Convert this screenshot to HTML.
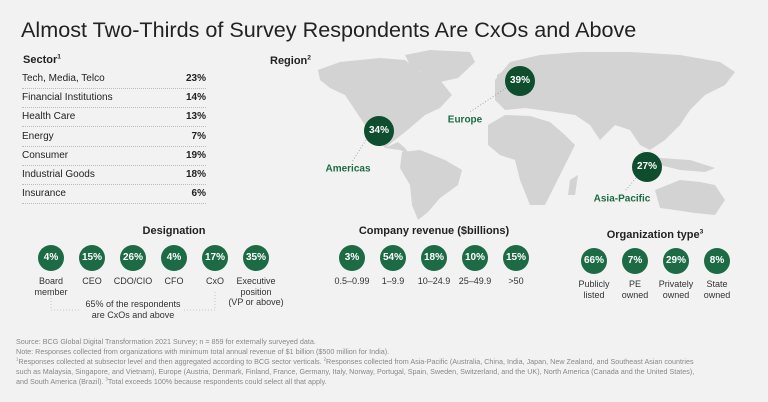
<!DOCTYPE html>
<html><head><meta charset="utf-8">
<style>
body{margin:0;background:#f2f2f2;}
#c{position:relative;width:768px;height:402px;overflow:hidden;background:#f2f2f2;font-family:"Liberation Sans",sans-serif;color:#222;}
.t{position:absolute;white-space:nowrap;}
sup{line-height:0;vertical-align:super;font-size:60%;}
.row{position:absolute;left:22px;width:184px;height:19px;border-bottom:1px dotted #bbb;font-size:10px;line-height:19px;}
.row b{position:absolute;right:0;top:0;}
.hd{position:absolute;font-weight:bold;font-size:11px;transform:translateX(-50%);white-space:nowrap;}
.circ{position:absolute;width:26px;height:26px;border-radius:50%;background:#1d6b45;color:#fff;font-weight:bold;font-size:10px;line-height:26px;text-align:center;transform:translate(-50%,-50%);}
.lb{position:absolute;font-size:9px;text-align:center;transform:translateX(-50%);line-height:10.5px;color:#333;white-space:nowrap;}
.big{width:30px;height:30px;line-height:30px;background:#0e4d2e;}
.reg{position:absolute;color:#1d6b45;font-weight:bold;font-size:10px;transform:translate(-50%,-50%);white-space:nowrap;}
.fn{position:absolute;left:16px;font-size:7.2px;color:#888;white-space:nowrap;line-height:10px;}
</style></head><body>
<div id="c">
<div class="t" style="left:21px;top:17px;font-size:21.6px;color:#222;">Almost Two-Thirds of Survey Respondents Are CxOs and Above</div>

<div class="t" style="left:23px;top:54px;font-size:11px;font-weight:bold;">Sector<sup>1</sup></div>
<div id="sector"></div>

<svg style="position:absolute;left:0;top:0" width="768" height="402">
<g fill="#d3d3d3">
<path d="M318,70 L340,62 L380,58 L405,60 L420,72 L440,80 L452,95 L440,108 L425,115 L410,128 L395,140 L385,148 L378,140 L365,125 L355,110 L345,95 L330,88 L320,80 Z"/>
<path d="M405,55 L430,50 L470,52 L475,62 L458,78 L440,82 L425,75 L410,65 Z"/>
<path d="M385,148 L400,150 L410,155 L405,148 L398,142 Z"/>
<path d="M402,152 L420,150 L445,160 L462,170 L458,185 L440,198 L428,212 L418,220 L412,205 L410,185 L400,168 Z"/>
<path d="M495,80 L510,62 L540,55 L580,52 L630,52 L680,55 L720,62 L735,72 L725,85 L705,95 L690,110 L680,125 L665,140 L650,150 L640,145 L630,130 L615,125 L600,140 L590,125 L575,115 L555,112 L540,110 L525,108 L505,110 L495,100 Z"/>
<path d="M488,125 L505,115 L530,116 L550,122 L565,135 L575,145 L565,165 L555,185 L545,205 L530,205 L520,180 L515,160 L500,155 L488,145 Z"/>
<path d="M640,150 L660,158 L690,160 L715,168 L705,172 L680,170 L660,165 Z"/>
<path d="M655,190 L680,180 L700,182 L715,185 L725,200 L715,215 L695,213 L675,210 L660,208 Z"/>
<path d="M570,180 L578,175 L575,195 L568,195 Z"/>
<path d="M497,75 L505,70 L505,85 L497,88 Z"/>
</g>
<g stroke="#999" stroke-dasharray="1,2" stroke-width="0.8">
<line x1="366" y1="140" x2="352" y2="162"/>
<line x1="506" y1="88" x2="470" y2="112"/>
<line x1="636" y1="178" x2="625" y2="191"/>
</g>
<g stroke="#bbb" stroke-dasharray="1,2" stroke-width="0.8" fill="none">
<path d="M51,292 L51,310 L80,310"/><path d="M184,310 L215,310 L215,292"/>
</g>
</svg>
<div class="t" style="left:270px;top:55px;font-size:11px;font-weight:bold;">Region<sup>2</sup></div>
<div class="circ big" style="left:379px;top:131px">34%</div>
<div class="circ big" style="left:520px;top:81px">39%</div>
<div class="circ big" style="left:647px;top:167px">27%</div>
<div class="reg" style="left:348px;top:169px">Americas</div>
<div class="reg" style="left:465px;top:120px">Europe</div>
<div class="reg" style="left:622px;top:199px">Asia-Pacific</div>

<div class="hd" style="left:174px;top:225px">Designation</div>
<div class="hd" style="left:434px;top:225px">Company revenue ($billions)</div>
<div class="hd" style="left:655px;top:229px">Organization type<sup>3</sup></div>
<div id="groups"></div>
<div class="lb" style="left:133px;top:299px;font-size:9px">65% of the respondents<br>are CxOs and above</div>

<div class="fn" style="top:337px">Source: BCG Global Digital Transformation 2021 Survey; n = 859 for externally surveyed data.</div>
<div class="fn" style="top:347px">Note: Responses collected from organizations with minimum total annual revenue of $1 billion ($500 million for India).</div>
<div class="fn" style="top:357px"><sup>1</sup>Responses collected at subsector level and then aggregated according to BCG sector verticals. <sup>2</sup>Responses collected from Asia-Pacific (Australia, China, India, Japan, New Zealand, and Southeast Asian countries</div>
<div class="fn" style="top:367px">such as Malaysia, Singapore, and Vietnam), Europe (Austria, Denmark, Finland, France, Germany, Italy, Norway, Portugal, Spain, Sweden, Switzerland, and the UK), North America (Canada and the United States),</div>
<div class="fn" style="top:377px">and South America (Brazil). <sup>3</sup>Total exceeds 100% because respondents could select all that apply.</div>
</div>
<script>
const sectors=["Tech, Media, Telco","Financial Institutions","Health Care","Energy","Consumer","Industrial Goods","Insurance"];
const sectorValues=[23,14,13,7,19,18,6];
const designations=["Board<br>member","CEO","CDO/CIO","CFO","CxO","Executive<br>position<br>(VP or above)"];
const designationValues=[4,15,26,4,17,35];
const revenueBands=["0.5–0.99","1–9.9","10–24.9","25–49.9",">50"];
const revenueValues=[3,54,18,10,15];
const orgTypes=["Publicly<br>listed","PE<br>owned","Privately<br>owned","State<br>owned"];
const orgValues=[66,7,29,8];

const sec=document.getElementById('sector');
sectors.forEach((s,i)=>{
  const r=document.createElement('div');r.className='row';
  
  
  r.style.top=(69+i*19.2)+'px';
  r.innerHTML=s+'<b>'+sectorValues[i]+'%</b>';
  sec.appendChild(r);
});
const g=document.getElementById('groups');
function group(labels,vals,x0,dx,cy,ly,name){
  labels.forEach((l,i)=>{
    const x=x0+i*dx;
    const c=document.createElement('div');c.className='circ';
    
    
    c.style.left=x+'px';c.style.top=cy+'px';c.textContent=vals[i]+'%';g.appendChild(c);
    const t=document.createElement('div');t.className='lb';
    
    
    t.style.left=x+'px';t.style.top=ly+'px';t.innerHTML=l;g.appendChild(t);
  });
}
group(designations,designationValues,51,41,258,276,'designation');
group(revenueBands,revenueValues,352,41,258,276,'revenue');
group(orgTypes,orgValues,594,41,261,279,'org-type');
</script>
</body></html>
